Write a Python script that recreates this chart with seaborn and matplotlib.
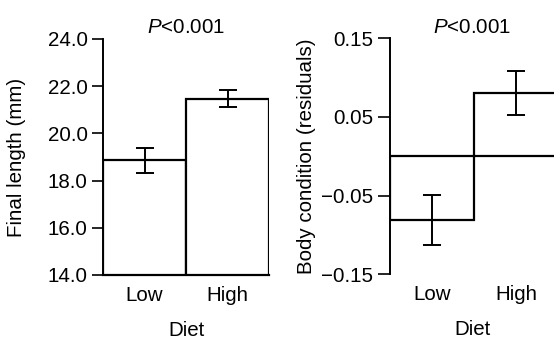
import matplotlib
matplotlib.use("Agg")
import matplotlib.pyplot as plt
import seaborn as sns
import pandas as pd

diet = ["Low", "High"]
length_mean = [18.86, 21.47]
length_err = [0.52, 0.37]
condition_mean = [-0.081, 0.081]
condition_err = [0.032, 0.028]
p_text = "$\\it{P}$<0.001"

sns.set_theme(style="ticks")
plt.rcParams["font.family"] = ["Liberation Sans", "DejaVu Sans"]
plt.rcParams["mathtext.fontset"] = "custom"
plt.rcParams["mathtext.it"] = "Liberation Sans:italic"
plt.rcParams["mathtext.rm"] = "Liberation Sans"
for k in ["text.color", "axes.labelcolor", "xtick.color", "ytick.color", "axes.edgecolor"]:
    plt.rcParams[k] = "black"

FS = 14.8

fig = plt.figure(figsize=(5.54, 3.39), dpi=100)
ax1 = fig.add_axes([103/554, 1-275/339, 166/554, 236/339])
ax2 = fig.add_axes([390/554, 1-274.3/339, 164/554, 236/339])

df1 = pd.DataFrame({"Diet": diet, "val": length_mean})
df2 = pd.DataFrame({"Diet": diet, "val": condition_mean})

for ax, df, err in [(ax1, df1, length_err), (ax2, df2, condition_err)]:
    sns.barplot(data=df, x="Diet", y="val", ax=ax, width=1.0, color="white",
                edgecolor="black", linewidth=1.6, errorbar=None, saturation=1)
    ax.errorbar(range(len(df)), df["val"], yerr=err, fmt="none", ecolor="black",
                elinewidth=1.4, capsize=6.5, capthick=1.4, zorder=5)
    ax.set_facecolor("white")
    for s in ["top", "right"]:
        ax.spines[s].set_visible(False)
    ax.spines["left"].set_linewidth(1.4)
    ax.tick_params(axis="y", length=8, width=1.2, pad=3, labelsize=FS)
    ax.tick_params(axis="x", length=0, pad=8, labelsize=FS)
    ax.set_xlabel("Diet", fontsize=FS)
    ax.xaxis.set_label_coords(0.5, -0.195)
    ax.set_title(p_text, fontsize=FS, pad=4)

ax1.set_xlim(-0.5, 1.5)
ax1.set_ylim(14, 24)
ax1.set_yticks([14, 16, 18, 20, 22, 24])
ax1.set_yticklabels(["14.0", "16.0", "18.0", "20.0", "22.0", "24.0"])
ax1.spines["bottom"].set_linewidth(1.6)
ax1.set_ylabel("Final length (mm)", fontsize=FS)
ax1.yaxis.set_label_coords(-0.464, 0.5)

ax2.set_xlim(-0.5, 1.45)
ax2.set_ylim(-0.15, 0.15)
ax2.set_yticks([-0.15, -0.05, 0.05, 0.15])
ax2.set_yticklabels(["\u22120.15", "\u22120.05", "0.05", "0.15"])
ax2.tick_params(axis="y", length=9)
ax2.spines["bottom"].set_visible(False)
ax2.set_ylabel("Body condition (residuals)", fontsize=FS)
ax2.yaxis.set_label_coords(-0.451, 0.5)

fig.savefig("out.png", dpi=100, facecolor="white")
